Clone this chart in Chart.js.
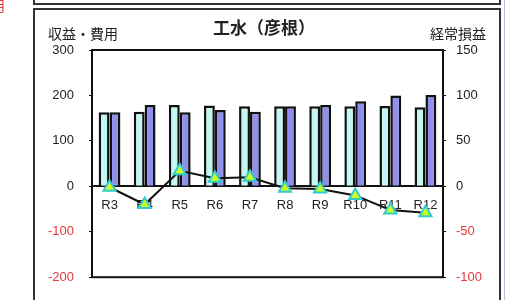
<!DOCTYPE html>
<html>
<head>
<meta charset="utf-8">
<script src="https://cdn.jsdelivr.net/npm/chart.js@4.4.1/dist/chart.umd.min.js"></script>
<style>
  body { margin: 0; background: #fff; }
</style>
</head>
<body>
<canvas id="chart" width="509" height="300"></canvas>
<script>
// 年度ごとの値 (読み取り値)
const years = ['R3', 'R4', 'R5', 'R6', 'R7', 'R8', 'R9', 'R10', 'R11', 'R12'];
const revenue = [163, 164, 179, 178, 176, 176, 176, 176, 177, 174];
const expense = [163, 179, 163, 168, 164, 176, 179, 187, 200, 201];
const ordinaryProfit = [-1, -20, 17, 9, 10, -2, -3, -10, -26, -29];

const leftTicks = [-200, -100, 0, 100, 200, 300];
const rightTicks = [-100, -50, 0, 50, 100, 150];

const FONT = '"Liberation Sans", "Noto Sans CJK JP", sans-serif';
const JP = '"Noto Sans CJK JP", sans-serif';

function tickColor(ctx) {
  return ctx.tick && ctx.tick.value < 0 ? '#e0393e' : '#222';
}

// 枠・タイトルなどの描画
const framePlugin = {
  id: 'frame',
  beforeDraw(chart) {
    const c = chart.ctx;
    c.save();
    c.fillStyle = '#fff';
    c.fillRect(0, 0, chart.width, chart.height);
    c.strokeStyle = '#333';
    c.lineWidth = 2;
    // 上の枠の下端
    c.beginPath();
    c.moveTo(34, 0); c.lineTo(34, 4); c.lineTo(500, 4); c.lineTo(500, 0);
    c.stroke();
    // 外枠
    c.strokeRect(34, 9, 466, 310);
    c.strokeStyle = '#b8c4dc';
    c.lineWidth = 1;
    c.beginPath(); c.moveTo(504.5, 0); c.lineTo(504.5, 300); c.stroke();
    // 左上の赤い文字 (切れている)
    c.fillStyle = '#e0393e';
    c.font = '14px ' + JP;
    c.textBaseline = 'top';
    c.fillText('用', -9, -1);
    // タイトル
    c.fillStyle = '#222';
    c.font = 'bold 17px ' + JP;
    c.textAlign = 'center';
    c.textBaseline = 'middle';
    c.fillText('工水（彦根）', 264, 28);
    c.font = '14px ' + JP;
    c.textAlign = 'left';
    c.fillText('収益・費用', 48, 34);
    c.textAlign = 'right';
    c.fillText('経常損益', 486, 34);
    c.restore();
  },
  beforeDatasetsDraw(chart) {
    const a = chart.chartArea;
    const c = chart.ctx;
    c.save();
    c.strokeStyle = '#111';
    c.lineWidth = 2;
    c.strokeRect(a.left, a.top, a.right - a.left, a.bottom - a.top);
    c.restore();
  }
};

const ctx = document.getElementById('chart');

new Chart(ctx, {
  type: 'bar',
  data: {
    labels: years,
    datasets: [{
      label: '収益',
      data: revenue,
      backgroundColor: '#c4f6f2',
      borderColor: '#111',
      borderWidth: 2.5,
      yAxisID: 'y',
      order: 2
    }, {
      label: '費用',
      data: expense,
      backgroundColor: '#8f8fec',
      borderColor: '#111',
      borderWidth: 2.5,
      yAxisID: 'y',
      order: 2
    }, {
      type: 'line',
      label: '経常損益',
      data: ordinaryProfit,
      borderColor: '#111',
      borderWidth: 2,
      pointStyle: 'triangle',
      pointRadius: 7,
      pointBackgroundColor: '#ccff22',
      pointBorderColor: '#33cccc',
      pointBorderWidth: 2,
      yAxisID: 'y1',
      order: 1
    }]
  },
  options: {
    responsive: false,
    animation: false,
    layout: { padding: { top: 50, bottom: 22, left: 0, right: 0 } },
    plugins: {
      legend: { display: false },
      tooltip: { enabled: false }
    },
    datasets: {
      bar: { categoryPercentage: 0.62, barPercentage: 1.0 }
    },
    scales: {
      x: {
        position: { y: 0 },
        grid: { display: false, drawTicks: false },
        border: { display: true, color: '#111', width: 2 },
        ticks: { padding: 11, color: '#222', font: { family: FONT, size: 13 }, maxRotation: 0, autoSkip: false }
      },
      y: {
        position: 'left',
        min: -200, max: 300,
        afterBuildTicks(s) { s.ticks = leftTicks.map(v => ({ value: v })); },
        afterFit(s) { s.width = 92; },
        grid: { drawOnChartArea: false, drawTicks: true, tickLength: 3, color: '#111' },
        border: { display: false },
        ticks: { padding: 15, color: tickColor, font: { family: FONT, size: 13 } }
      },
      y1: {
        position: 'right',
        min: -100, max: 150,
        afterBuildTicks(s) { s.ticks = rightTicks.map(v => ({ value: v })); },
        afterFit(s) { s.width = 66; },
        grid: { drawOnChartArea: false, drawTicks: true, tickLength: 3, color: '#111' },
        border: { display: false },
        ticks: { padding: 10, color: tickColor, font: { family: FONT, size: 13 } }
      }
    }
  },
  plugins: [framePlugin]
});
</script>
</body>
</html>
